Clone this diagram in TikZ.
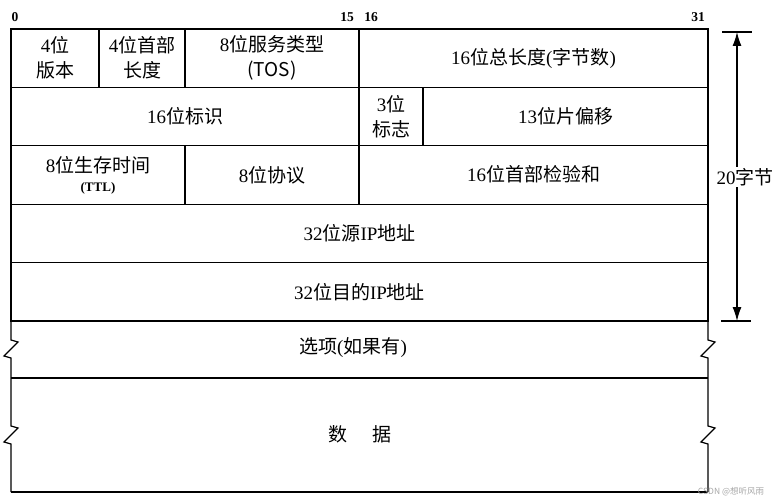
\documentclass[tikz,border=0pt]{standalone}
\usepackage{fontspec}
\setmainfont{Liberation Serif}
\newfontfamily\cjk{Noto Sans CJK SC}
\newcommand{\zh}[1]{{\cjk #1}}
\usetikzlibrary{arrows.meta}

\begin{document}
\begin{tikzpicture}[x=1pt,y=-1pt,line width=1.2pt]
\tikzstyle{field}=[
	draw,
	anchor=north west,
	inner sep=0pt,
	outer sep=0pt,
	minimum height=58.4pt,
	align=center,
	font=\fontsize{19}{25}\selectfont ]
\tikzstyle{txt}=[inner sep=1pt, font=\fontsize{19}{25}\selectfont]
\tikzstyle{bitno}=[inner sep=0pt, font=\fontsize{13.5}{13.5}\selectfont\bfseries]
\useasboundingbox (0,0) rectangle (773,500);
\node[bitno] (b0) at (15,17) {0};
\node[bitno] (b15) at (347,17) {15};
\node[bitno] (b16) at (371,17) {16};
\node[bitno] (b31) at (698,17) {31};
\node[field, minimum width=88pt] (ver) at (11,29) {4\zh{位}\\\zh{版本}};
\node[field, minimum width=86pt] (hlen) at (99,29) {4\zh{位首部}\\\zh{长度}};
\node[field, minimum width=174pt] (tos) at (185,29) {8\zh{位服务类型}\\\zh{(TOS)}};
\node[field, minimum width=349pt] (tlen) at (359,29) {\raisebox{3pt}{16\zh{位总长度}(\zh{字节数})}};
\node[field, minimum width=348pt] (ident) at (11,87.4) {16\zh{位标识}};
\node[field, minimum width=64pt] (flag) at (359,87.4) {3\zh{位}\\\zh{标志}};
\node[field, minimum width=285pt] (frag) at (423,87.4) {13\zh{位片偏移}};
\node[field, minimum width=174pt] (ttl) at (11,145.8) {8\zh{位生存时间}\\[-6pt]{\fontsize{13}{13}\selectfont\bfseries (TTL)}};
\node[field, minimum width=174pt] (proto) at (185,145.8) {8\zh{位协议}};
\node[field, minimum width=349pt] (cksum) at (359,145.8) {\raisebox{3pt}{16\zh{位首部检验和}}};
\node[field, minimum width=697pt] (src) at (11,204.2) {32\zh{位源}IP\zh{地址}};
\node[field, minimum width=697pt] (dst) at (11,262.6) {32\zh{位目的}IP\zh{地址}};
\foreach \x in {11,708}
  \draw (\x,321) -- (\x,340) -- ++(7,2) -- ++(-14,14) -- ++(7,2) -- (\x,426)
    -- ++(7,2) -- ++(-14,14) -- ++(7,2) -- (\x,492);
\draw (11,378) -- (708,378);
\draw (11,492) -- (708,492);
\node[txt] (opt) at (353,348) {\zh{选项}(\zh{如果有})};
\node[txt] (data) at (360,434) {\zh{数\hspace{1.3em}据}};
\coordinate (top) at (737,32);
\coordinate (bot) at (737,321);
\draw ([xshift=-15pt]top) -- ([xshift=15pt]top);
\draw ([xshift=-16pt]bot) -- ([xshift=14pt]bot);
\node[txt] (len) at (745,177) {20\zh{字节}};
\draw[-{Latex[length=14pt,width=9pt]}] (len.north -| top) -- (top);
\draw[-{Latex[length=14pt,width=9pt]}] (len.south -| bot) -- (bot);
\node[inner sep=0pt, text=gray!70, font=\fontsize{8.5}{8.5}\cjk] (mark) at (731,492) {CSDN @想听风雨};
\end{tikzpicture}
\end{document}
